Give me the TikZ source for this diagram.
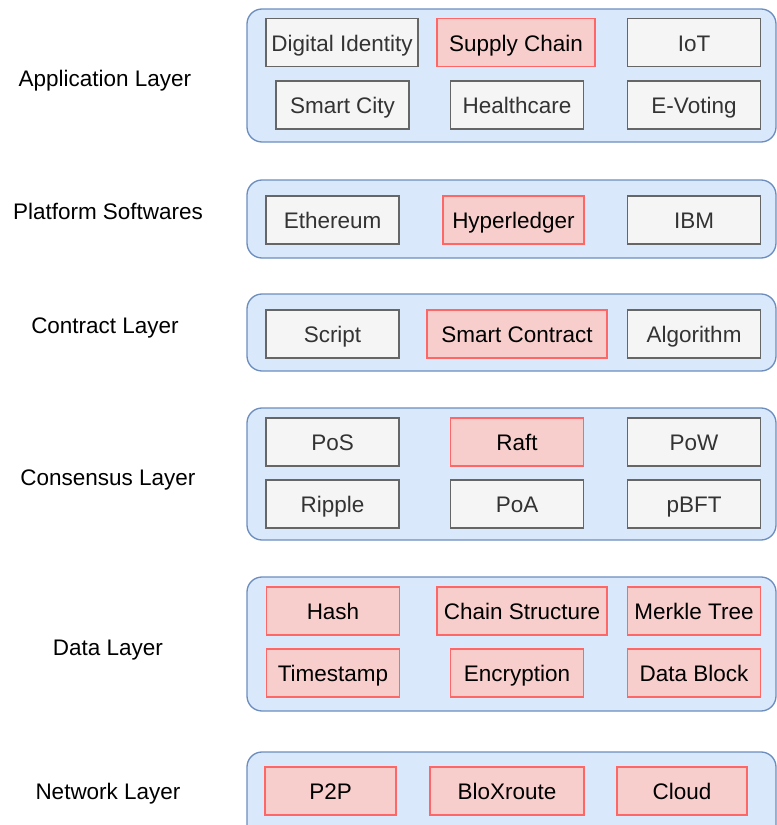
\documentclass[tikz,border=0pt]{standalone}
\usepackage{fontspec}
\setmainfont{Liberation Sans}
\definecolor{layerfill}{HTML}{DAE8FC}
\definecolor{layerdraw}{HTML}{6C8EBF}
\definecolor{grayfill}{HTML}{F5F5F5}
\definecolor{graydraw}{HTML}{666666}
\definecolor{graytext}{HTML}{333333}
\definecolor{redfill}{HTML}{F8CECC}
\definecolor{reddraw}{HTML}{FF6666}
\begin{document}
\begin{tikzpicture}[x=0.02cm, y=-0.02cm, line width=0.75pt,
    every node/.style={font=\fontsize{12.8}{15}\selectfont},
    layer/.style={rectangle, rounded corners=0.3cm, draw=layerdraw, fill=layerfill, minimum width=529*0.02cm},
    gray box/.style={rectangle, draw=graydraw, fill=grayfill, text=graytext, minimum width=133*0.02cm, minimum height=48*0.02cm, inner sep=1pt, text height=11pt, text depth=0.8pt},
    red box/.style={rectangle, draw=reddraw, fill=redfill, text=black, minimum width=133*0.02cm, minimum height=48*0.02cm, inner sep=1pt, text height=11pt, text depth=0.8pt},
    bw/.style={minimum width=#1*0.02cm},
    label/.style={text=black, text height=11pt, text depth=0.8pt}]
        \clip (0, 0) rectangle (777, 825);

        % layer containers
        \node[layer, minimum height=133*0.02cm] at (511.5, 75.5) (app) {};
        \node[layer, minimum height=78*0.02cm] at (511.5, 219) (plat) {};
        \node[layer, minimum height=77*0.02cm] at (511.5, 332.5) (contr) {};
        \node[layer, minimum height=132*0.02cm] at (511.5, 474) (cons) {};
        \node[layer, minimum height=134*0.02cm] at (511.5, 644) (data) {};
        \node[layer, minimum height=88*0.02cm] at (511.5, 796) (net) {};

        % layer names
        \node[label] at (105, 78) (appl) {Application Layer};
        \node[label] at (108, 211) (platl) {Platform Softwares};
        \node[label] at (105, 325) (contrl) {Contract Layer};
        \node[label] at (108, 477) (consl) {Consensus Layer};
        \node[label] at (108, 647) (datal) {Data Layer};
        \node[label] at (108, 791) (netl) {Network Layer};

        % application layer
        \node[gray box, bw=152] at (342, 42.5) (ident) {Digital Identity};
        \node[red box, bw=158] at (516, 42.5) (supply) {Supply Chain};
        \node[gray box] at (694, 42.5) (iot) {IoT};
        \node[gray box] at (342.5, 105) (city) {Smart City};
        \node[gray box] at (517, 105) (health) {Healthcare};
        \node[gray box] at (694, 105) (vote) {E-Voting};

        % platform softwares
        \node[gray box] at (332.5, 220) (eth) {Ethereum};
        \node[red box, bw=141] at (513.5, 220) (hyper) {Hyperledger};
        \node[gray box] at (694, 220) (ibm) {IBM};

        % contract layer
        \node[gray box] at (332.5, 334) (script) {Script};
        \node[red box, bw=180] at (517, 334) (smart) {Smart Contract};
        \node[gray box] at (694, 334) (algo) {Algorithm};

        % consensus layer
        \node[gray box] at (332.5, 442) (pos) {PoS};
        \node[red box] at (517, 442) (raft) {Raft};
        \node[gray box] at (694, 442) (pow) {PoW};
        \node[gray box] at (332.5, 504) (ripple) {Ripple};
        \node[gray box] at (517, 504) (poa) {PoA};
        \node[gray box] at (694, 504) (pbft) {pBFT};

        % data layer
        \node[red box] at (333, 611) (hash) {Hash};
        \node[red box, bw=170] at (522, 611) (chain) {Chain Structure};
        \node[red box] at (694, 611) (merkle) {Merkle Tree};
        \node[red box] at (333, 673) (time) {Timestamp};
        \node[red box] at (517, 673) (encr) {Encryption};
        \node[red box] at (694, 673) (block) {Data Block};

        % network layer
        \node[red box, bw=131] at (330.5, 791) (p2p) {P2P};
        \node[red box, bw=154] at (507, 791) (blox) {BloXroute};
        \node[red box, bw=130] at (682, 791) (cloud) {Cloud};
\end{tikzpicture}
\end{document}
